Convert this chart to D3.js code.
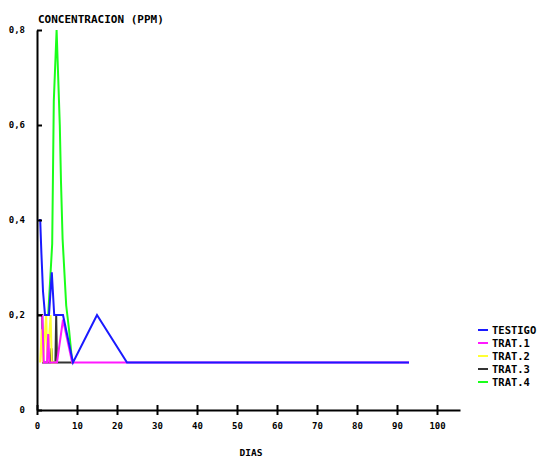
<!DOCTYPE html>
<html lang="es">
<head>
  <meta charset="UTF-8">
  <title>Concentracion (PPM) por dias</title>
  <script src="https://d3js.org/d3.v7.min.js"></script>
  <style>
    body {
      margin: 0;
      background: #fff;
    }
    svg {
      display: block;
      background: #fff;
      font-family: "DejaVu Sans Mono", monospace;
      font-weight: bold;
    }
    .axis path, .axis line {
      stroke: #000;
      stroke-width: 2;
    }
    .axis text {
      font-family: "DejaVu Sans Mono", monospace;
      font-weight: bold;
      font-size: 9px;
      fill: #000;
    }
  </style>
</head>
<body>

<svg width="539" height="458"></svg>

<script>
  // tick values and labels
  const xTicks = [0, 10, 20, 30, 40, 50, 60, 70, 80, 90, 100];
  const yTicks = [0, 0.2, 0.4, 0.6, 0.8];
  const yTickLabels = ["0", "0,2", "0,4", "0,6", "0,8"];

  // series, [dia, ppm]
  const testigo = [[0.5, 0.4], [0.8, 0.4], [1.1, 0.33], [1.5, 0.25], [2, 0.2], [3, 0.2], [3.7, 0.29],
                   [4.3, 0.2], [6.5, 0.2], [9, 0.1], [15, 0.2], [22.5, 0.1], [93, 0.1]];
  const trat1 = [[1.3, 0.2], [1.7, 0.1], [2.5, 0.1], [2.8, 0.16], [3.1, 0.1], [5, 0.1],
                 [6.5, 0.19], [8.8, 0.1], [22.5, 0.1], [93, 0.1]];
  const trat2 = [[0.8, 0.1], [1.2, 0.17], [1.5, 0.1], [2.3, 0.2], [2.6, 0.1], [3.4, 0.2],
                 [3.7, 0.1], [5, 0.1]];
  const trat3 = [[0, 0.2], [1.3, 0.2], [1.5, 0.1], [3.4, 0.1], [3.6, 0.13], [3.8, 0.1],
                 [4.6, 0.1], [4.8, 0.2], [5, 0.1], [9, 0.1]];
  const trat4 = [[2.8, 0.2], [3.8, 0.35], [4.2, 0.65], [4.9, 0.8], [5.7, 0.6], [6, 0.48],
                 [6.4, 0.36], [7.3, 0.22], [8, 0.17], [8.8, 0.1]];

  const seriesNames = ["TESTIGO", "TRAT.1", "TRAT.2", "TRAT.3", "TRAT.4"];
  const seriesData = [testigo, trat1, trat2, trat3, trat4];
  const seriesColors = ["#1a1aff", "#ff19ff", "#ffff33", "#333333", "#1aff1a"];

  const svg = d3.select("svg");

  const x = d3.scaleLinear().domain([0, 105.75]).range([37, 460]);
  const y = d3.scaleLinear().domain([0, 0.8]).range([410, 30]);

  // lines, drawn last series first so TESTIGO sits on top
  const line = d3.line().x(d => x(d[0])).y(d => y(d[1]));
  for (let i = seriesData.length - 1; i >= 0; i--) {
    svg.append("path")
        .datum(seriesData[i])
        .attr("fill", "none")
        .attr("stroke", seriesColors[i])
        .attr("stroke-width", 2)
        .attr("d", line);
  }

  // X axis
  const xAxis = svg.append("g")
      .attr("class", "axis")
      .attr("transform", `translate(0,${y(0)})`)
      .call(d3.axisBottom(x).tickValues(xTicks).tickSize(4).tickPadding(9).tickSizeOuter(0));
  xAxis.selectAll(".tick line").attr("y1", -5).attr("y2", 5);

  // Y axis, ticks inward
  svg.append("g")
      .attr("class", "axis")
      .attr("transform", `translate(${x(0)},0)`)
      .call(d3.axisLeft(y).tickValues(yTicks).tickSize(-5).tickSizeOuter(0).tickPadding(12)
        .tickFormat((d, i) => yTickLabels[i]));

  // titles
  svg.append("text")
      .attr("x", 38)
      .attr("y", 23)
      .style("font-size", "11px")
      .text("CONCENTRACION (PPM)");

  svg.append("text")
      .attr("x", 251)
      .attr("y", 456)
      .attr("text-anchor", "middle")
      .style("font-size", "9.5px")
      .text("DIAS");

  // legend
  const legend = svg.append("g").attr("transform", "translate(478,330)");
  seriesNames.forEach((name, i) => {
    const row = legend.append("g").attr("transform", `translate(0,${i * 13})`);
    row.append("line")
        .attr("x1", 0).attr("x2", 10)
        .attr("stroke", seriesColors[i])
        .attr("stroke-width", 2);
    row.append("text")
        .attr("x", 14)
        .attr("dy", "0.35em")
        .style("font-size", "10.5px")
        .text(name);
  });
</script>

</body>
</html>
